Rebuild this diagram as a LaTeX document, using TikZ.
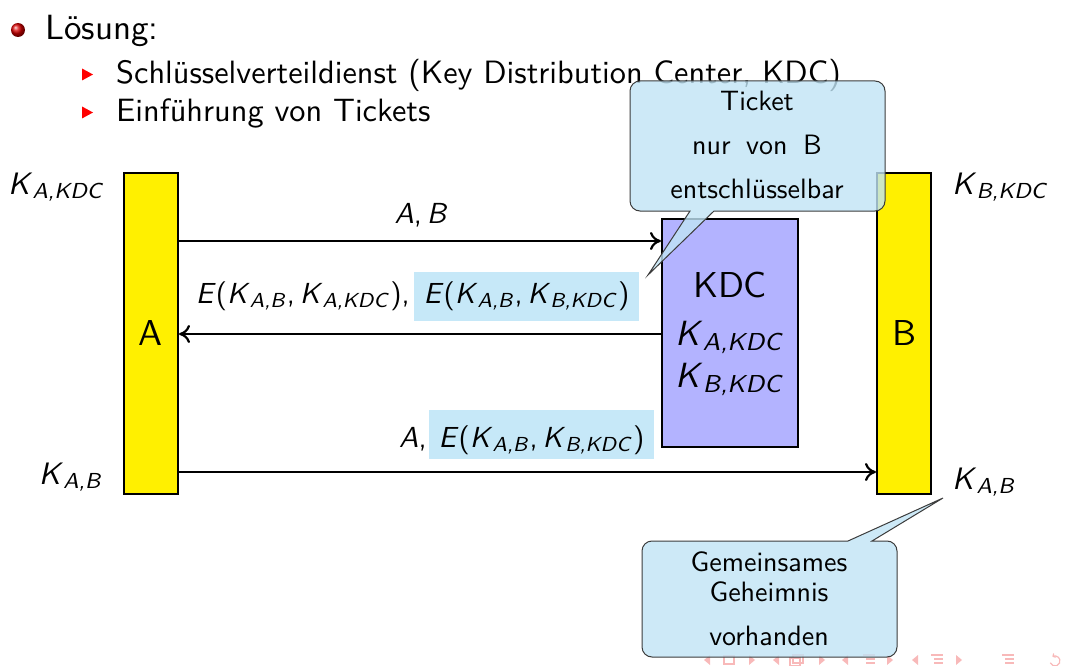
\documentclass[tikz,border=0pt]{standalone}
\usepackage{graphicx}
\usetikzlibrary{arrows.meta}
\renewcommand{\familydefault}{\sfdefault}
\newcommand{\Ksub}[2]{\textit{#1}\textsubscript{\textit{#2}}}
\newcommand{\sz}[2]{\scalebox{#1}{\fontsize{10}{12}\selectfont #2}}
\definecolor{boxyellow}{RGB}{255,240,0}
\definecolor{kdcfill}{RGB}{179,179,255}
\definecolor{hl}{RGB}{198,232,248}
\definecolor{callfill}{RGB}{192,228,245}
\definecolor{callborder}{RGB}{60,60,60}
\definecolor{navpink}{RGB}{248,185,185}
\tikzset{
  party/.style={draw=black, line width=2pt, fill=boxyellow, minimum width=54pt, minimum height=321pt, inner sep=0pt},
  kdcbox/.style={draw=black, line width=2pt, fill=kdcfill, minimum width=136pt, minimum height=228pt, inner sep=0pt},
  txt/.style={inner sep=0pt, anchor=base},
  hlbox/.style={fill=hl, inner xsep=0pt, inner ysep=10pt, minimum width=225pt},
  msg/.style={draw=black, line width=2pt, -{To[length=11pt,width=18pt,line width=2.2pt]}},
  callout/.style={fill=callfill, fill opacity=0.8, draw=callborder, line width=1pt},
  navshape/.style={fill=navpink},
  navline/.style={draw=navpink, line width=1.2pt}
}
\begin{document}
\begin{tikzpicture}[x=1pt,y=-1pt]
\useasboundingbox (0,0) rectangle (1066,666);

% bullet list
\shade[ball color=red!85!black] (18,30) circle (7);
\node[txt, anchor=base west] (sol) at (45,40) {\sz{3.5}{Lösung:}};
\fill[red] (82,68.5) -- (93,74.5) -- (82,80.5) -- cycle;
\fill[red] (82,106.5) -- (93,112.5) -- (82,118.5) -- cycle;
\node[txt, anchor=base west] (it1) at (116,84) {\sz{3.23}{Schlüsselverteildienst (Key Distribution Center, KDC)}};
\node[txt, anchor=base west] (it2) at (116,122) {\sz{3.23}{Einführung von Tickets}};

% parties
\node[party] (A) at (151,333.5) {\sz{3.6}{A}};
\node[party] (B) at (904,333.5) {\sz{3.6}{B}};
\node[kdcbox] (kdc) at (730,333) {};
\node[txt] (kdct) at (730,297) {\sz{3.6}{KDC}};
\node[txt] (kdca) at (730,345) {\sz{3.5}{\Ksub{K}{A,KDC}}};
\node[txt] (kdcb) at (730,387) {\sz{3.5}{\Ksub{K}{B,KDC}}};

% key labels
\node[txt, anchor=base west] (kak) at (8,194) {\sz{3.1}{\Ksub{K}{A,KDC}}};
\node[txt, anchor=base west] (kbk) at (952,194) {\sz{3.1}{\Ksub{K}{B,KDC}}};
\node[txt, anchor=base east] (kabl) at (103,484) {\sz{3.1}{\Ksub{K}{A,B}}};
\node[txt, anchor=base west] (kabr) at (952,489) {\sz{3.1}{\Ksub{K}{A,B}}};

% messages
\draw[msg] (A.east |- 0,241) -- (kdc.west |- 0,241);
\node[txt] (m1) at (421,223) {\sz{2.9}{\textit{A},\,\textit{B}}};

\node[hlbox, text height=21pt, text depth=8pt] (m2b) at (526.5,296.5) {\sz{2.9}{\textit{E}(\Ksub{K}{A,B},\,\Ksub{K}{B,KDC})}};
\node[txt, anchor=base east] (m2a) at ([xshift=-4pt]m2b.base west) {\sz{2.9}{\textit{E}(\Ksub{K}{A,B},\,\Ksub{K}{A,KDC}),}};
\draw[msg] (kdc.west |- 0,334) -- (A.east |- 0,334);

\node[hlbox, text height=27pt, text depth=2pt] (m3b) at (541.5,434.5) {\sz{2.9}{\textit{E}(\Ksub{K}{A,B},\,\Ksub{K}{B,KDC})}};
\node[txt, anchor=base east] (m3a) at ([xshift=-2pt]m3b.base west) {\sz{2.9}{\textit{A},}};
\draw[msg] (A.east |- 0,472) -- (B.west |- 0,472);

% navigation symbols
\foreach \x in {707,776,845,915} \fill[navshape] (\x+3,655) -- (\x-3,660) -- (\x+3,665) -- cycle;
\foreach \x in {752,822,890,959} \fill[navshape] (\x-3,655) -- (\x+3,660) -- (\x-3,665) -- cycle;
\draw[navline] (724,656) rectangle (734,664);
\draw[navline] (790,658) rectangle (800,666);
\draw[navline] (793,655) rectangle (803,663);
\foreach \x in {869,937,1008} {
  \draw[navline] (\x-6,655) -- (\x+6,655);
  \draw[navline] (\x-3,659) -- (\x+6,659);
  \draw[navline] (\x-3,663) -- (\x+6,663);
}
\draw[navline, -{To[length=3pt,width=5pt]}] (1050.3,662.7) arc[start angle=160, end angle=-120, radius=5];

% top callout
\coordinate (tipT) at (648,275);
\path[callout] (690,211) -- (tipT) -- (714,211) -- (875,211)
  arc[start angle=90, end angle=0, radius=10] -- (885,91)
  arc[start angle=0, end angle=-90, radius=10] -- (640,81)
  arc[start angle=-90, end angle=-180, radius=10] -- (630,201)
  arc[start angle=180, end angle=90, radius=10] -- cycle;
\node[txt] (ct1) at (757,111) {\sz{2.8}{Ticket}};
\node[txt] (ct2) at (757,155) {\sz{2.8}{nur\hspace{2.2pt} von\hspace{2.2pt} B}};
\node[txt] (ct3) at (757,198) {\sz{2.8}{entschlüsselbar}};

% bottom callout
\coordinate (tipB) at (943,498);
\path[callout] (848,541) -- (tipB) -- (872,541) -- (887,541)
  arc[start angle=-90, end angle=0, radius=10] -- (897,647)
  arc[start angle=0, end angle=90, radius=10] -- (652,657)
  arc[start angle=90, end angle=180, radius=10] -- (642,551)
  arc[start angle=180, end angle=270, radius=10] -- cycle;
\node[txt] (cb1) at (769,571) {\sz{2.8}{Gemeinsames}};
\node[txt] (cb2) at (769,601) {\sz{2.8}{Geheimnis}};
\node[txt] (cb3) at (769,645) {\sz{2.8}{vorhanden}};
\end{tikzpicture}
\end{document}
